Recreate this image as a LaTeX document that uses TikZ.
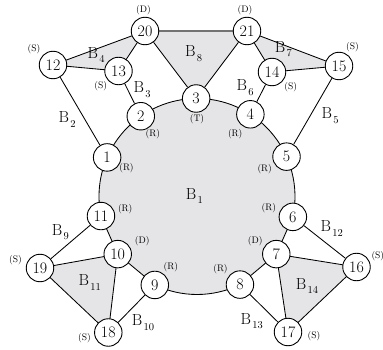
\documentclass[tikz,border=0pt]{standalone}
\usetikzlibrary{calc}
\definecolor{shadegray}{RGB}{229,229,231}
\pgfdeclarelayer{bg}
\pgfsetlayers{bg,main}
\newcommand\Bsub[1]{B\kern1.3pt\raisebox{-4.5pt}{\fontsize{10.5}{10.5}\selectfont #1}}
\begin{document}
\begin{tikzpicture}[x=1pt,y=1pt,
  vnode/.style={circle,draw,fill=white,minimum size=27.5pt,inner sep=0pt,line width=0.9pt,font=\fontsize{16}{16}\selectfont},
  tag/.style={inner sep=0pt,font=\fontsize{9.5}{10}\selectfont},
  blab/.style={inner sep=0pt,anchor=base west,font=\fontsize{16}{16}\selectfont},
  edge/.style={line width=0.85pt},
  region/.style={fill=shadegray,draw=black,line width=0.85pt}]
\useasboundingbox (0,0) rectangle (383,-350);
\coordinate (C) at (197,-196.5);
% nodes on the big circle
\node[vnode] (n1)  at ($(C)+(156.5:98)$) {1};
\node[vnode] (n2)  at ($(C)+(125:98)$)   {2};
\node[vnode] (n3)  at ($(C)+(90.5:98)$)  {3};
\node[vnode] (n4)  at ($(C)+(57:98)$)    {4};
\node[vnode] (n5)  at ($(C)+(24:98)$)    {5};
\node[vnode] (n6)  at ($(C)+(-12:98)$)   {6};
\node[vnode] (n7)  at ($(C)+(-36:98)$)   {7};
\node[vnode] (n8)  at ($(C)+(-64:98)$)   {8};
\node[vnode] (n9)  at ($(C)+(-115.5:98)$) {9};
\node[vnode] (n10) at ($(C)+(216:98)$)   {10};
\node[vnode] (n11) at ($(C)+(191.5:98)$) {11};
% outer nodes
\node[vnode] (n12) at (53,-65)    {12};
\node[vnode] (n13) at (118.5,-71) {13};
\node[vnode] (n14) at (272,-72)   {14};
\node[vnode] (n15) at (339,-66)   {15};
\node[vnode] (n16) at (356.5,-267) {16};
\node[vnode] (n17) at (288,-332)  {17};
\node[vnode] (n18) at (108.3,-332.5) {18};
\node[vnode] (n19) at (40,-268)   {19};
\node[vnode] (n20) at (145,-31)   {20};
\node[vnode] (n21) at (247,-31)   {21};
\begin{pgfonlayer}{bg}
  % B1
  \path[region] (n11.center) arc[start angle=191.5,end angle=-12,radius=98]
     -- (n7.center) -- (n8.center) arc[start angle=-64,end angle=-115.5,radius=98]
     -- (n10.center) -- cycle;
  % shaded triangles
  \path[region] (n12.center) -- (n20.center) -- (n13.center) -- cycle;
  \path[region] (n21.center) -- (n15.center) -- (n14.center) -- cycle;
  \path[region] (n19.center) -- (n10.center) -- (n18.center) -- cycle;
  \path[region] (n7.center) -- (n16.center) -- (n17.center) -- cycle;
  \path[fill=shadegray] (n20.center) -- (n21.center) -- (n3.center) -- cycle;
  \draw[edge] (n20) -- (n3);
  \draw[edge] (n21) -- (n3);
  \draw[line width=1.6pt,draw=black!55] (n20) -- (n21);
  % other edges
  \draw[edge] (n12) -- (n1);
  \draw[edge] (n13) -- (n2);
  \draw[edge] (n14) -- (n4);
  \draw[edge] (n15) -- (n5);
  \draw[edge] (n11) -- (n19);
  \draw[edge] (n9) -- (n18);
  \draw[edge] (n6) -- (n16);
  \draw[edge] (n8) -- (n17);
\end{pgfonlayer}
% block labels
\node[blab] (b1)  at (185.7,-199)   {\Bsub{1}};
\node[blab] (b2)  at (58.3,-122.7)  {\Bsub{2}};
\node[blab] (b3)  at (133.3,-92.7)  {\Bsub{3}};
\node[blab] (b4)  at (87.3,-58.3)   {\Bsub{4}};
\node[blab] (b5)  at (321.3,-119)   {\Bsub{5}};
\node[blab] (b6)  at (236.3,-90.7)  {\Bsub{6}};
\node[blab] (b7)  at (274.7,-52.3)  {\Bsub{7}};
\node[blab] (b8)  at (185,-56.7)    {\Bsub{8}};
\node[blab] (b9)  at (51.7,-235)    {\Bsub{9}};
\node[blab] (b10) at (131.7,-325.7) {\Bsub{10}};
\node[blab] (b11) at (78.3,-285.7)  {\Bsub{11}};
\node[blab] (b12) at (320.3,-231.7) {\Bsub{12}};
\node[blab] (b13) at (240.3,-324)   {\Bsub{13}};
\node[blab] (b14) at (295.7,-289)   {\Bsub{14}};
% vertex tags
\node[tag] (t20) at (143.5,-10)  {(D)};
\node[tag] (t21) at (245,-10)    {(D)};
\node[tag] (t12) at (34,-49.5)   {(S)};
\node[tag] (t13) at (100.7,-86.2) {(S)};
\node[tag] (t2)  at (152.8,-134.5) {(R)};
\node[tag] (t1)  at (126.5,-167.8) {(R)};
\node[tag] (t3)  at (197,-119)   {(T)};
\node[tag] (t14) at (290.8,-86.7) {(S)};
\node[tag] (t15) at (352.5,-47.5) {(S)};
\node[tag] (t4)  at (235.2,-133.7) {(R)};
\node[tag] (t5)  at (264.7,-169.5) {(R)};
\node[tag] (t11) at (125.2,-209.5) {(R)};
\node[tag] (t10) at (142.2,-241)  {(D)};
\node[tag] (t19) at (15.5,-260.5) {(S)};
\node[tag] (t9)  at (170.8,-267)  {(R)};
\node[tag] (t18) at (84.5,-337.8) {(S)};
\node[tag] (t6)  at (268.8,-207.8) {(R)};
\node[tag] (t7)  at (255.2,-241)  {(D)};
\node[tag,anchor=west] (t16) at (371.3,-256) {(S)};
\node[tag] (t8)  at (220.5,-268.7) {(R)};
\node[tag] (t17) at (314,-336.3)  {(S)};
\end{tikzpicture}
\end{document}
